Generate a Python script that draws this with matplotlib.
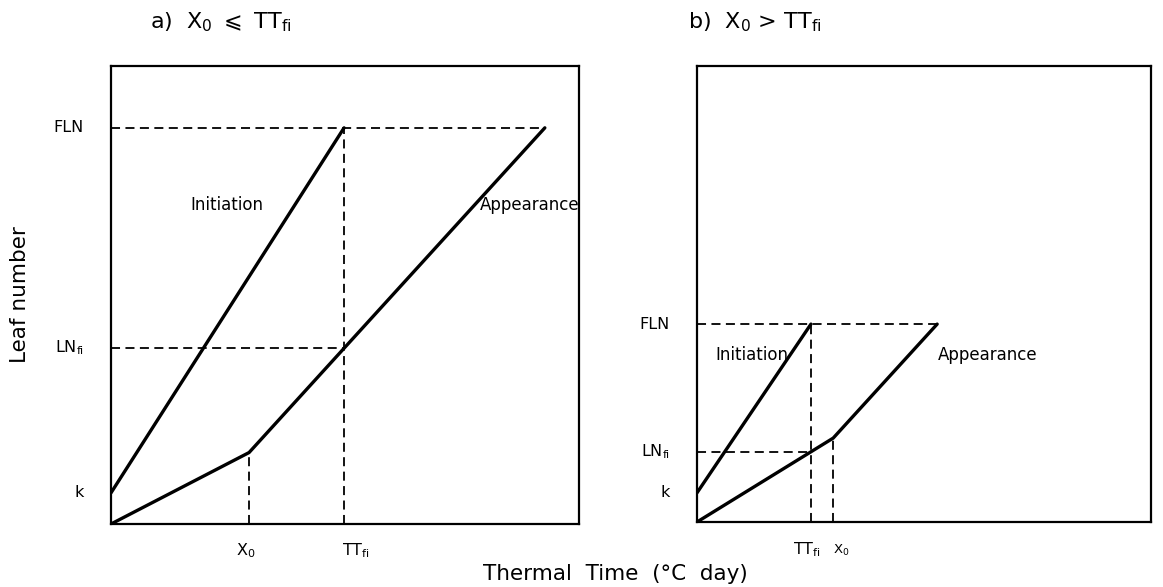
import matplotlib
matplotlib.use('Agg')
import matplotlib.pyplot as plt
from matplotlib.transforms import blended_transform_factory, ScaledTranslation

plt.rcParams['font.family'] = ['DejaVu Sans']
plt.rcParams['mathtext.default'] = 'regular'

# ---------------- data (schematic units, 0-100 on both axes) ----------------
# panel a) X0 <= TTfi
a_levels = {'k': 6.8, 'LNfi': 38.4, 'FLN': 86.5}
a_times = {'X0': 29.5, 'TTfi': 49.8, 'end': 92.7}
a_knee = 15.6
a_init_x = [0, a_times['TTfi']]
a_init_y = [a_levels['k'], a_levels['FLN']]
a_app_x = [0, a_times['X0'], a_times['end']]
a_app_y = [0, a_knee, a_levels['FLN']]

# panel b) X0 > TTfi
b_levels = {'k': 6.4, 'LNfi': 15.4, 'FLN': 43.4}
b_times = {'TTfi': 25.1, 'X0': 30.0, 'end': 52.9}
b_knee = 18.4
b_init_x = [0, b_times['TTfi']]
b_init_y = [b_levels['k'], b_levels['FLN']]
b_app_x = [0, b_times['X0'], b_times['end']]
b_app_y = [0, b_knee, b_levels['FLN']]

ytick_labels = {'k': 'k', 'LNfi': 'LN$_{fi}$', 'FLN': 'FLN'}

W, H = 1163, 587
fig = plt.figure(figsize=(W / 100, H / 100), dpi=100)

def px_axes(l, t, r, b):
    return fig.add_axes([l / W, 1 - b / H, (r - l) / W, (b - t) / H])

axa = px_axes(111, 66, 579, 524)
axb = px_axes(697, 66, 1151, 522)

LW = 2.4
DLW = 1.3
dash = (0, (5, 3))

def draw_panel(ax, levels, times, knee, init_x, init_y, app_x, app_y):
    ax.set_xlim(0, 100)
    ax.set_ylim(0, 100)
    ax.set_xticks([])
    ax.set_yticks([])
    for s in ax.spines.values():
        s.set_linewidth(1.6)
    # dashed guides
    ax.plot([0, times['end']], [levels['FLN']] * 2, color='black', lw=DLW, ls=dash)
    ax.plot([0, times['TTfi']], [levels['LNfi']] * 2, color='black', lw=DLW, ls=dash)
    ax.plot([times['TTfi']] * 2, [0, levels['FLN']], color='black', lw=DLW, ls=dash)
    ax.plot([times['X0']] * 2, [0, knee], color='black', lw=DLW, ls=dash)
    # solid lines
    ax.plot(init_x, init_y, color='black', lw=LW, solid_capstyle='round')
    ax.plot(app_x, app_y, color='black', lw=LW, solid_capstyle='round',
            solid_joinstyle='round')

def ylab(ax, y, s, pad_px, size=11.5):
    tr = blended_transform_factory(ax.transAxes, ax.transData) + \
        ScaledTranslation(-pad_px / 100, 0, fig.dpi_scale_trans)
    ax.text(0, y, s, transform=tr, ha='right', va='center', fontsize=size)

def xlab(ax, x, s, dx_px, dy_px, size=11.5):
    tr = blended_transform_factory(ax.transData, ax.transAxes) + \
        ScaledTranslation(dx_px / 100, -dy_px / 100, fig.dpi_scale_trans)
    ax.text(x, 0, s, transform=tr, ha='center', va='center', fontsize=size)

draw_panel(axa, a_levels, a_times, a_knee, a_init_x, a_init_y, a_app_x, a_app_y)
draw_panel(axb, b_levels, b_times, b_knee, b_init_x, b_init_y, b_app_x, b_app_y)

for key, lab in ytick_labels.items():
    ylab(axa, a_levels[key], lab, 27)
    ylab(axb, b_levels[key], lab, 27)

xlab(axa, a_times['X0'], 'X$_0$', -3, 27)
xlab(axa, a_times['TTfi'], 'TT$_{fi}$', 12, 27)
xlab(axb, b_times['TTfi'], 'TT$_{fi}$', -4, 28)
xlab(axb, b_times['X0'], 'X$_0$', 8, 28, size=9.5)

axa.text(16.9, 69.7, 'Initiation', fontsize=12, ha='left', va='center')
axa.text(78.8, 69.7, 'Appearance', fontsize=12, ha='left', va='center')
axb.text(4.0, 36.6, 'Initiation', fontsize=12, ha='left', va='center')
axb.text(53.0, 36.6, 'Appearance', fontsize=12, ha='left', va='center')

fig.text(150 / W, 1 - 22 / H, r'a)  X$_0$ $\leqslant$ TT$_{fi}$', fontsize=16,
         ha='left', va='center')
fig.text(688 / W, 1 - 22 / H, r'b)  X$_0$ > TT$_{fi}$', fontsize=16,
         ha='left', va='center')

fig.text(20 / W, 1 - 295 / H, 'Leaf number', rotation=90, fontsize=15.5,
         ha='center', va='center')
fig.text(615 / W, 1 - 574 / H, 'Thermal  Time  (°C  day)', fontsize=15.5,
         ha='center', va='center')

fig.savefig('out.png', dpi=100)
